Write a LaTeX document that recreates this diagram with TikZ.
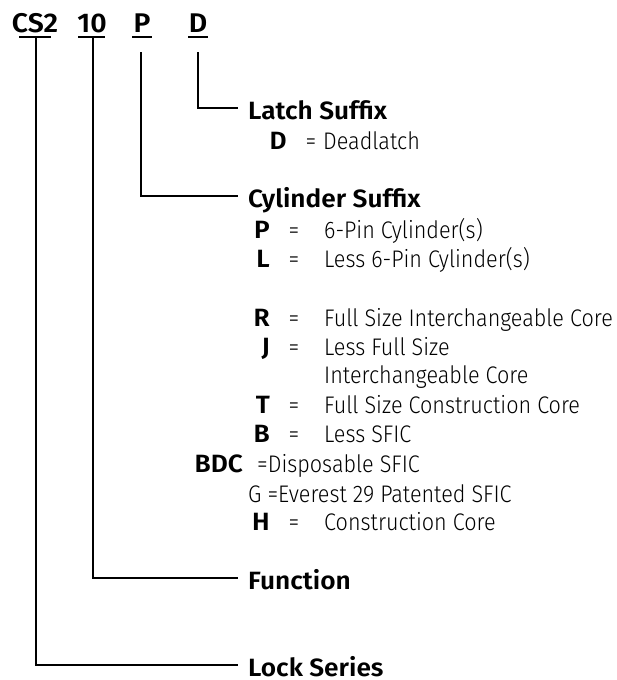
\documentclass[tikz,border=0pt]{standalone}
\usepackage{fontspec}
\setmainfont{Fira Sans}
\newfontfamily\regf{Fira Sans Light}[FakeStretch=0.9]
\newfontfamily\boldf{Fira Sans SemiBold}[FakeStretch=1.05]
\begin{document}
\begin{tikzpicture}[x=1pt,y=-1pt,
  conn/.style={line width=2pt},
  uline/.style={line width=1.4pt},
  code/.style={font=\fontsize{27}{30}\boldf, anchor=base, inner sep=0pt},
  head/.style={font=\fontsize{25}{28}\boldf, anchor=base west, inner sep=0pt, text height=22pt, text depth=0pt},
  key/.style={font=\fontsize{25}{28}\boldf, anchor=base east, inner sep=0pt},
  eq/.style={font=\fontsize{24}{28}\regf, anchor=base, inner sep=0pt},
  desc/.style={font=\fontsize{24}{28}\regf, anchor=base west, inner sep=0pt}]
\useasboundingbox (0,0) rectangle (617,680);
% top code
\node[code] (cs2) at (35,32) {CS2};
\node[code] (ten) at (92,32) {10};
\node[code] (pp) at (142,32) {P};
\node[code] (dd) at (198,32) {D};
\draw[uline] (19,37) -- (51,37);
\draw[uline] (78,37) -- (105,37);
\draw[uline] (132,37) -- (152,37);
\draw[uline] (188,37) -- (208,37);
\coordinate (v1) at (36,37);
\coordinate (v2) at (93,37);
\coordinate (v3) at (141,52);
\coordinate (v4) at (198,52);
% headers
\node[head] (latch) at (248,119) {Latch Suffix};
\node[head] (cyl) at (248,207) {Cylinder Suffix};
\node[head] (func) at (248,589) {Function};
\node[head] (lock) at (248,676) {Lock Series};
% connectors
\draw[conn] (v4) |- ([xshift=-10pt]latch.west);
\draw[conn] (v3) |- ([xshift=-10pt]cyl.west);
\draw[conn] (v2) |- ([xshift=-10pt]func.west);
\draw[conn] (v1) |- ([xshift=-10pt]lock.west);
% latch list
\node[key] (kd) at (287,149) {D};
\node[eq] (ed) at (311,149) {=};
\node[desc] (td) at (323,149) {Deadlatch};
% cylinder list
\node[key] (kp) at (270,238) {P};
\node[eq] (ep) at (294,238) {=};
\node[desc] (tp) at (324,238) {6-Pin Cylinder(s)};
\node[key] (kl) at (270,267) {L};
\node[eq] (el) at (294,267) {=};
\node[desc] (tl) at (324,267) {Less 6-Pin Cylinder(s)};
\node[key] (kr) at (270,326) {R};
\node[eq] (er) at (294,326) {=};
\node[desc] (tr) at (324,326) {Full Size Interchangeable Core};
\node[key] (kj) at (270,355) {J};
\node[eq] (ej) at (294,355) {=};
\node[desc] (tj) at (324,355) {Less Full Size};
\node[desc] (tj2) at (324,383) {Interchangeable Core};
\node[key] (kt) at (270,413) {T};
\node[eq] (et) at (294,413) {=};
\node[desc] (tt) at (324,413) {Full Size Construction Core};
\node[key] (kb) at (270,442) {B};
\node[eq] (eb) at (294,442) {=};
\node[desc] (tb) at (324,442) {Less SFIC};
\node[key] (kbdc) at (243,472) {BDC};
\node[desc] (tbdc) at (257,472) {=Disposable SFIC};
\node[desc] (tg) at (248,502) {G =Everest 29 Patented SFIC};
\node[key] (kh) at (270,530) {H};
\node[eq] (eh) at (294,530) {=};
\node[desc] (th) at (324,530) {Construction Core};
\end{tikzpicture}
\end{document}
